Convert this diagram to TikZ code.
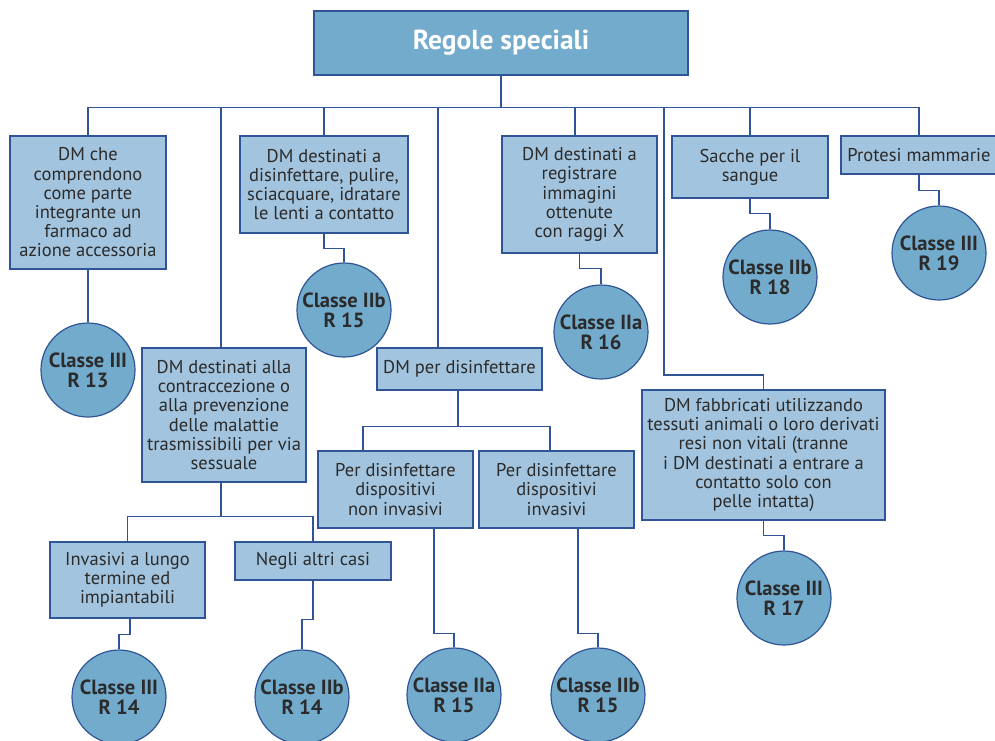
\documentclass[tikz,border=0pt]{standalone}
\usepackage{fontspec}
\setmainfont{PT Sans}
\usetikzlibrary{positioning}
\definecolor{boxfill}{HTML}{A3C4DE}
\definecolor{circfill}{HTML}{73ABCD}
\definecolor{linec}{HTML}{2F5597}
\definecolor{textc}{HTML}{2B2B2B}
\tikzset{
        regola/.style={rectangle, draw=linec, fill=boxfill, line width=1.2pt, inner sep=0pt,
                align=center, text=textc, font=\fontsize{18.5}{19.2}\selectfont},
        titolo/.style={rectangle, draw=linec, fill=circfill, line width=1.2pt, inner sep=0pt,
                text=white, font=\bfseries\fontsize{27.5}{30}\selectfont},
        classe/.style={circle, draw=linec, fill=circfill, line width=1.2pt, minimum size=94pt,
                inner sep=0pt, align=center, text=textc, font=\bfseries\fontsize{20.5}{20}\selectfont},
        link/.style={draw=linec, line width=1.2pt}
}
\begin{document}
\begin{tikzpicture}[x=1pt, y=-1pt]
        \useasboundingbox (0,0) rectangle (995,740);
        \node[titolo, minimum width=374pt, minimum height=64pt] (regole) at (501,43) {Regole speciali};
        \node[regola, minimum width=156pt, minimum height=133pt] (farmaco) at (88,202.5)
                {DM che\\comprendono\\come parte\\integrante un\\farmaco ad\\azione accessoria};
        \node[regola, minimum width=168pt, minimum height=97pt] (lenti) at (324,184.5)
                {DM destinati a\\disinfettare, pulire,\\sciacquare, idratare\\le lenti a contatto};
        \node[regola, minimum width=155pt, minimum height=117pt] (raggi) at (579.5,194.5)
                {DM destinati a\\registrare\\immagini\\ottenute\\con raggi X};
        \node[regola, minimum width=156pt, minimum height=62pt] (sacche) at (750,167)
                {Sacche per il\\sangue};
        \node[regola, minimum width=156pt, minimum height=38pt] (protesi) at (919,155)
                {Protesi mammarie};
        \node[regola, minimum width=164pt, minimum height=134pt] (contrac) at (224,415)
                {DM destinati alla\\contraccezione o\\alla prevenzione\\delle malattie\\trasmissibili per via\\sessuale};
        \node[regola, minimum width=165pt, minimum height=42pt] (disinf) at (459.5,369)
                {DM per disinfettare};
        \node[regola, minimum width=243pt, minimum height=130pt] (tessuti) at (763.5,455)
                {DM fabbricati utilizzando\\tessuti animali o loro derivati\\resi non vitali (tranne\\i DM destinati a entrare a\\contatto solo con\\pelle intatta)};
        \node[regola, minimum width=155pt, minimum height=76pt] (lungo) at (127.5,580)
                {Invasivi a lungo\\termine ed\\impiantabili};
        \node[regola, minimum width=156pt, minimum height=38pt] (altri) at (313,561)
                {Negli altri casi};
        \node[regola, minimum width=155pt, minimum height=77pt] (noninv) at (395.5,489.5)
                {Per disinfettare\\dispositivi\\non invasivi};
        \node[regola, minimum width=155pt, minimum height=77pt] (inv) at (556.5,489.5)
                {Per disinfettare\\dispositivi\\invasivi};

        \node[classe] (r13) at (88,370) {Classe III\\R 13};
        \node[classe] (r15b) at (344,310) {Classe IIb\\R 15};
        \node[classe] (r16) at (601,332) {Classe IIa\\R 16};
        \node[classe] (r18) at (770,277) {Classe IIb\\R 18};
        \node[classe] (r19) at (939,253) {Classe III\\R 19};
        \node[classe] (r17) at (784,598) {Classe III\\R 17};
        \node[classe] (r14a) at (119,697) {Classe III\\R 14};
        \node[classe] (r14b) at (302,697) {Classe IIb\\R 14};
        \node[classe] (r15a) at (454,695) {Classe IIa\\R 15};
        \node[classe] (r15c) at (598,695) {Classe IIb\\R 15};

        \coordinate (gomito) at (664,375);
        \draw[link] (regole.south) -- ++(0,32) coordinate (bus);
        \draw[link] (bus) -| (farmaco.north);
        \draw[link] (bus) -| ([xshift=-3pt]contrac.north);
        \draw[link] (bus) -| (lenti.north);
        \draw[link] (bus) -| ([xshift=-21.5pt]disinf.north);
        \draw[link] (bus) -| ([xshift=-4.5pt]raggi.north);
        \draw[link] (bus) -| (gomito) -| (tessuti.north);
        \draw[link] (bus) -| (sacche.north);
        \draw[link] (bus) -| (protesi.north);

        \draw[link] (farmaco.south) -- (r13.north);
        \draw[link] (lenti.south) -- ++(0,15) -| (r15b.north);
        \draw[link] (raggi.south) -- ++(0,15) -| (r16.north);
        \draw[link] (sacche.south) -- ++(0,15) -| (r18.north);
        \draw[link] (protesi.south) -- ++(0,16) -| (r19.north);
        \draw[link] (tessuti.south) -- ++(0,15) -| (r17.north);

        \draw[link] ([xshift=-3pt]contrac.south) -- ++(0,34) coordinate (bivio);
        \draw[link] (bivio) -| (lungo.north);
        \draw[link] (bivio) -| (altri.north);
        \draw[link] ([xshift=2.5pt]lungo.south) -- ++(0,16) -| (r14a.north);
        \draw[link] (altri.south) -- ++(0,39) -| (r14b.north);

        \draw[link] ([xshift=-1.5pt]disinf.south) -- ++(0,36) coordinate (bivio2);
        \draw[link] (bivio2) -| ([xshift=-32.5pt]noninv.north);
        \draw[link] (bivio2) -| ([xshift=-6.5pt]inv.north);
        \draw[link] ([xshift=38.5pt]noninv.south) -- ++(0,105) -| (r15a.north);
        \draw[link] ([xshift=21.5pt]inv.south) -- ++(0,105) -| (r15c.north);
\end{tikzpicture}
\end{document}
